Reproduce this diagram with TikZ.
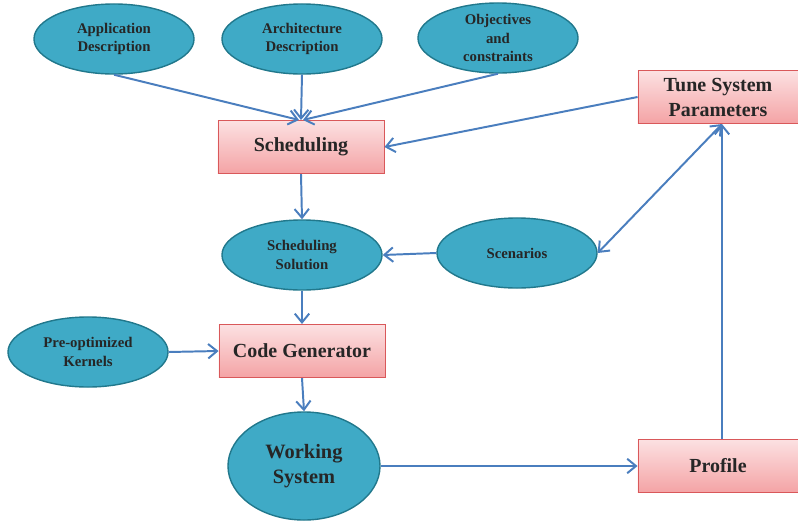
\documentclass[tikz,border=0pt]{standalone}
\usepackage{fontspec}
\setmainfont{Liberation Serif}
\usepackage{xcolor}
\usetikzlibrary{shapes.geometric,arrows.meta}

\definecolor{teal}{HTML}{3FAAC6}
\definecolor{tealdark}{HTML}{21788C}
\definecolor{pinktop}{HTML}{FCE1E2}
\definecolor{pinkbot}{HTML}{F4A3A5}
\definecolor{pinkline}{HTML}{D9585A}
\definecolor{arrowblue}{HTML}{4A7EBE}

\begin{document}
\begin{tikzpicture}[x=0.025cm,y=-0.025cm,>={Straight Barb[length=2.2mm,width=3.6mm]}]
    \tikzstyle{E}=[ellipse,draw=tealdark,line width=1pt,fill=teal,inner sep=0pt,
        minimum width=4cm,minimum height=1.75cm,align=center,
        font=\bfseries\fontsize{10.5}{13}\selectfont,text=black!85]
    \tikzstyle{R}=[rectangle,draw=pinkline,line width=0.6pt,top color=pinktop,
        bottom color=pinkbot,minimum height=1.33cm,align=center,
        font=\bfseries\fontsize{14.2}{17.8}\selectfont,text=black!85]
    \tikzstyle{A}=[draw=arrowblue,line width=1.4pt]

    \useasboundingbox (0,0) rectangle (798,521);

    % Inputs
    \node [E] (app)  at (114, 39) {Application\\Description};
    \node [E] (arch) at (302, 39) {Architecture\\Description};
    \node [E] (obj)  at (498, 38) {Objectives\\and\\constraints};

    % Main flow
    \node [R,minimum width=4.15cm] (sched) at (301, 147) {Scheduling};
    \node [E] (sol)  at (302, 255) {Scheduling\\Solution};
    \node [E] (scen) at (517, 253) {Scenarios};
    \node [E] (kern) at (88, 352) {Pre-optimized\\Kernels};
    \node [R,minimum width=4.15cm] (gen) at (302, 351) {Code Generator};
    \node [E,minimum width=3.8cm,minimum height=2.7cm,
        font=\bfseries\fontsize{14.5}{18}\selectfont] (work) at (304, 466) {Working\\System};

    % Feedback
    \node [R,minimum width=4cm] (tune) at (718, 97) {Tune System\\Parameters};
    \node [R,minimum width=4cm] (prof) at (718, 466) {Profile};

    % Arrows
    \draw [A,->] (app.south) -- ([xshift=-0.5mm]sched.north);
    \draw [A,->] (arch.south) -- (sched.north);
    \draw [A,->] (obj.south) -- ([xshift=0.5mm]sched.north);
    \draw [A,->] (tune.west) -- (sched.east);
    \draw [A,->] (sched.south) -- (sol.north);
    \draw [A,->] (scen.west) -- (sol.east);
    \draw [A,<->] ([xshift=1mm]tune.south) -- (scen.east);
    \draw [A,->] (sol.south) -- (gen.north);
    \draw [A,->] (kern.east) -- (gen.west);
    \draw [A,->] (gen.south) -- (work.north);
    \draw [A,->] (work.east) -- (prof.west);
    \draw [A,->] ([xshift=1mm]prof.north) -- ([xshift=1mm]tune.south);
\end{tikzpicture}
\end{document}
